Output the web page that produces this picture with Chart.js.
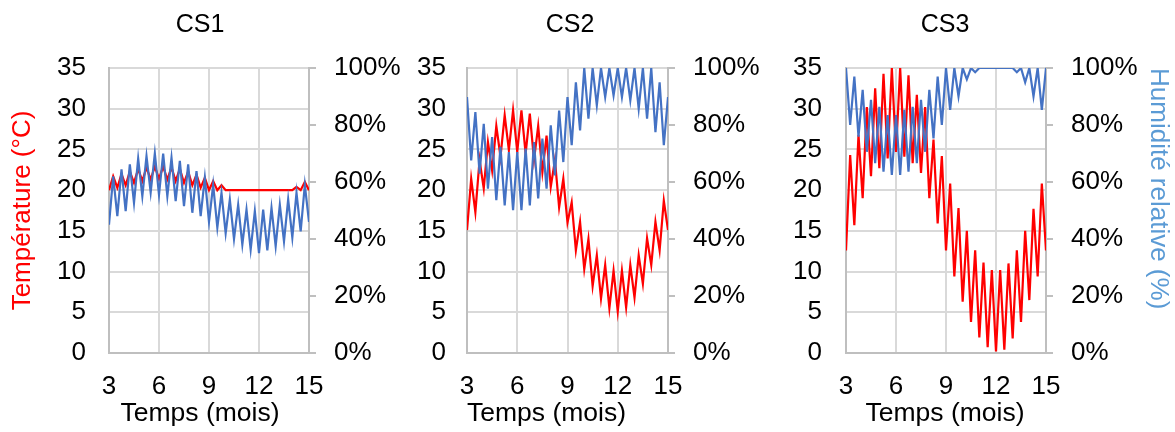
<!DOCTYPE html>
<html>
<head>
<meta charset="utf-8">
<script src="https://cdn.jsdelivr.net/npm/chart.js@4.4.1/dist/chart.umd.min.js"></script>
<style>
html,body{margin:0;padding:0;background:#fff;}
#wrap{position:relative;width:1175px;height:432px;overflow:hidden;background:#fff;}
canvas{position:absolute;top:0;}
</style>
</head>
<body>
<div id="wrap">
<canvas id="c1" width="400" height="432" style="left:0px"></canvas>
<canvas id="c2" width="380" height="432" style="left:380px"></canvas>
<canvas id="c3" width="460" height="432" style="left:715px"></canvas>
</div>
<script>
// ---- data (months on x axis) ----
const months = [3,3.25,3.5,3.75,4,4.25,4.5,4.75,5,5.25,5.5,5.75,6,6.25,6.5,6.75,7,7.25,7.5,7.75,8,8.25,8.5,8.75,9,9.25,9.5,9.75,10,10.25,10.5,10.75,11,11.25,11.5,11.75,12,12.25,12.5,12.75,13,13.25,13.5,13.75,14,14.25,14.5,14.75,15];

const panelTitles = ['CS1', 'CS2', 'CS3'];
const xTitle = 'Temps (mois)';
const tempTitle = 'Température (°C)';
const humTitle = 'Humidité relative (%)';

// temperature (°C)
const cs1Temp = [20,21.7,20.3,22.0,20.6,22.3,20.9,22.6,21.1,22.8,21.3,22.9,21.4,22.9,21.3,22.8,21.1,22.6,20.9,22.3,20.6,21.9,20.3,21.5,20.0,21.1,20.0,20.6,20,20,20,20,20,20,20,20,20,20,20,20,20,20,20,20,20,20.4,20,21.0,20];
const cs2Temp = [15.1,21.4,17.3,23.7,20.2,25.9,22.4,27.9,24.1,29.2,24.9,29.8,24.7,29.8,24.5,29.4,23.7,27.9,22.2,26.7,20.4,23.7,17.9,21.4,16.0,18.5,12.6,16.1,10.3,14.0,8.2,12.0,6.7,10.8,5.5,10.1,5.1,10.1,5.6,10.8,6.8,12.0,8.5,14.1,10.8,16.1,12.6,18.7,15.1];
const cs3Temp = [12.6,24.3,15.7,26.8,19.0,30.2,21.7,32.5,22.7,34.3,23.9,35,24.7,35,24.1,34.1,23.3,31.7,22.1,30.2,19.0,26.2,15.9,24.2,12.6,20.8,9.4,17.8,6.3,15.0,3.8,12.6,1.9,11.1,0.7,10.2,0.2,10.2,0.4,11.0,1.8,12.6,3.8,15.0,6.5,17.7,9.4,20.8,12.6];

// relative humidity (%)
const cs1Hum = [45,62,48,64.4,49.8,66.2,52.7,68.2,55,69.1,56.3,70,55.5,70,55,68.5,53.3,67.4,51.5,66.2,49.2,63.8,48,61.5,46,59,44,56.2,42,53.9,40,52,38,50.3,36.3,49.8,35,50.3,36,50.9,37.5,52,39.2,53.9,40.5,56.2,42.7,59,46];
const cs2Hum = [89.8,67.6,84.5,62.9,80.4,57.7,75.8,53.6,72.3,51.8,70.5,50.1,70.5,50.1,71.7,51.8,74,54.2,75.2,57.7,79.9,62.3,85.1,67,89.8,72.9,95,78.1,100,82.2,100,86.9,100,89.8,100,90.4,100,89.8,100,88.6,100,85.7,100,82.2,100,77.5,95,72.9,89.8];
const cs3Hum = [100,80,97,75.9,92.3,70.6,88.8,66.6,86.4,63.6,83.5,62.5,83.5,62.5,85.3,63.6,86.4,66.6,88.8,70.6,92.3,75.3,97,80,100,85.3,100,90,100,96,100,98.5,100,100,100,100,100,100,100,100,100,98.5,100,95,100,90,100,85.3,100];

// axis ranges / ticks
const xMin = 3, xMax = 15, xStep = 3;
const tMin = 0, tMax = 35, tStep = 5;
const hMin = 0, hMax = 100, hStep = 20;

// ---- styling ----
Chart.defaults.font.family = "'Liberation Sans', Arial, sans-serif";
Chart.defaults.color = '#000';
const RED = '#FF0000', BLUE = '#4472C4', TITLEBLUE = '#5B9BD5';
const GRID = '#d9d9d9', AXIS = '#bfbfbf';
const tickFont = {size: 26};

function makeChart(id, idx, temp, hum, cfg) {
  const ctx = document.getElementById(id).getContext('2d');
  return new Chart(ctx, {
    type: 'line',
    data: {
      labels: months,
      datasets: [
        {label: 'HR', data: hum, yAxisID: 'y2', borderColor: BLUE, borderWidth: 2.2, pointRadius: 0, tension: 0, fill: false},
        {label: 'T', data: temp, yAxisID: 'y', borderColor: RED, borderWidth: 2.2, pointRadius: 0, tension: 0, fill: false}
      ]
    },
    options: {
      responsive: false,
      animation: false,
      devicePixelRatio: 1,
      layout: {padding: 0},
      plugins: {
        legend: {display: false},
        tooltip: {enabled: false},
        title: {display: true, text: panelTitles[idx], color: '#000', font: {size: 25, weight: 'normal'}, padding: {top: 10.5, bottom: 27.5}},
        subtitle: {display: true, position: 'bottom', text: xTitle, color: '#000',
          align: cfg.xTitleAlign, fullSize: cfg.xTitleFull,
          font: {size: 26.5, weight: 'normal'}, padding: {top: 0, bottom: 2}}
      },
      scales: {
        x: {
          type: 'linear', min: xMin, max: xMax,
          ticks: {stepSize: xStep, padding: 18, font: tickFont, color: '#000', maxRotation: 0, autoSkip: false},
          grid: {color: GRID, lineWidth: 2, drawTicks: false},
          border: {color: AXIS, width: 2},
          afterFit: s => { s.height = 45.2; }
        },
        y: {
          position: 'left', min: tMin, max: tMax,
          ticks: {stepSize: tStep, padding: cfg.leftPad, font: tickFont, color: '#000'},
          grid: {color: GRID, lineWidth: 2, drawTicks: false},
          border: {color: AXIS, width: 2},
          title: {display: cfg.showTempTitle, text: tempTitle, color: RED, font: {size: 26}, padding: {top: 7, bottom: 0}},
          afterFit: s => { s.width = cfg.leftW; }
        },
        y2: {
          position: 'right', min: hMin, max: hMax,
          ticks: {stepSize: hStep, padding: 18, font: tickFont, color: '#000', callback: v => v + '%'},
          grid: {drawOnChartArea: false, drawTicks: true, tickLength: 7, color: AXIS, lineWidth: 2},
          border: {color: AXIS, width: 2},
          title: {display: cfg.showHumTitle, text: humTitle, color: TITLEBLUE, font: {size: 26}, align: 'end', padding: {top: 1.4, bottom: 0}},
          afterFit: s => { s.width = cfg.rightW; }
        }
      }
    }
  });
}

makeChart('c1', 0, cs1Temp, cs1Hum, {leftW: 109, rightW: 91, leftPad: 23, showTempTitle: true, showHumTitle: false, xTitleAlign: 'center', xTitleFull: true});
makeChart('c2', 1, cs2Temp, cs2Hum, {leftW: 87, rightW: 92, leftPad: 21, showTempTitle: false, showHumTitle: false, xTitleAlign: 'start', xTitleFull: false});
makeChart('c3', 2, cs3Temp, cs3Hum, {leftW: 131, rightW: 129, leftPad: 24, showTempTitle: false, showHumTitle: true, xTitleAlign: 'center', xTitleFull: true});
</script>
</body>
</html>
